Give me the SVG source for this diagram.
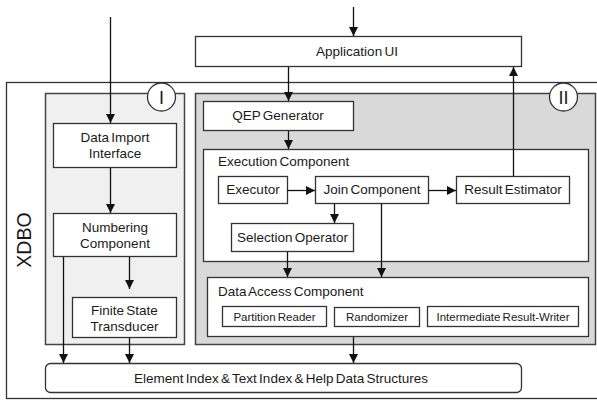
<svg xmlns="http://www.w3.org/2000/svg" width="597" height="401" viewBox="0 0 597 401">
  <defs>
    <marker id="arrow" markerWidth="9" markerHeight="10" refX="9" refY="5" orient="auto" markerUnits="userSpaceOnUse">
      <path d="M0,0.5 L9,5 L0,9.5 Z" fill="#111"/>
    </marker>
    <style>
      .box { fill: #fff; stroke: #333; stroke-width: 1.3; }
      .panel1 { fill: #f0f0f0; stroke: #444; stroke-width: 1.5; }
      .panel2 { fill: #d9d9d9; stroke: #444; stroke-width: 1.5; }
      .frame { fill: #fff; stroke: #333; stroke-width: 1.3; }
      .badge { fill: #fff; stroke: #333; stroke-width: 1.3; }
      .lbl { font-family: "Liberation Sans", Arial, sans-serif; font-size: 13.5px; fill: #1a1a1a; word-spacing: -1.5px; }
      .sm { font-family: "Liberation Sans", Arial, sans-serif; font-size: 11.5px; fill: #1a1a1a; word-spacing: -1px; }
      .c { text-anchor: middle; }
      .num { font-family: "Liberation Sans", Arial, sans-serif; font-size: 19px; fill: #1a1a1a; text-anchor: middle; }
      .conn line, .conn polyline { stroke: #111; stroke-width: 1.3; fill: none; }
    </style>
  </defs>

  <rect width="597" height="401" fill="#fff"/>

  <!-- XDBO system frame -->
  <g id="xdbo">
    <rect class="frame" x="6.5" y="82.5" width="600" height="316"/>
    <text class="num" x="31" y="240" transform="rotate(-90 31 240)" style="font-size:19.5px;">XDBO</text>
  </g>

  <!-- Part I: import side -->
  <g id="panel-i">
    <rect class="panel1" x="45.5" y="93.5" width="139" height="251"/>
    <circle class="badge" cx="161.5" cy="97" r="14"/>
    <text class="num" x="161.5" y="104" style="font-size:18px;">I</text>
  </g>

  <!-- Part II: query side -->
  <g id="panel-ii">
    <rect class="panel2" x="195.5" y="93.5" width="400" height="251"/>
    <circle class="badge" cx="563.5" cy="97" r="14"/>
    <text class="num" x="563.5" y="104" style="font-size:18px;">II</text>
  </g>

  <g id="application-ui">
    <rect class="box" x="195.5" y="36.5" width="326" height="30"/>
    <text class="lbl c" x="357" y="55.5">Application UI</text>
  </g>

  <g id="qep-generator">
    <rect class="box" x="203.5" y="101.5" width="150" height="29"/>
    <text class="lbl c" x="278" y="119.5">QEP Generator</text>
  </g>

  <g id="execution-component">
    <rect class="box" x="203.5" y="149.5" width="385" height="112"/>
    <text class="lbl" x="218" y="165.5">Execution Component</text>
  </g>

  <g id="executor">
    <rect class="box" x="218.5" y="176.5" width="69" height="27"/>
    <text class="lbl c" x="253" y="194">Executor</text>
  </g>

  <g id="join-component">
    <rect class="box" x="315.5" y="176.5" width="113" height="27"/>
    <text class="lbl c" x="372" y="194">Join Component</text>
  </g>

  <g id="result-estimator">
    <rect class="box" x="456.5" y="176.5" width="113" height="27"/>
    <text class="lbl c" x="513" y="194">Result Estimator</text>
  </g>

  <g id="selection-operator">
    <rect class="box" x="231.5" y="223.5" width="122" height="28"/>
    <text class="lbl c" x="292.5" y="241.5">Selection Operator</text>
  </g>

  <g id="data-access-component">
    <rect class="box" x="207.5" y="277.5" width="381" height="59"/>
    <text class="lbl" x="218" y="295.5">Data Access Component</text>
  </g>

  <g id="partition-reader">
    <rect class="box" x="222.5" y="306.5" width="104" height="20"/>
    <text class="sm c" x="274.5" y="320.5">Partition Reader</text>
  </g>

  <g id="randomizer">
    <rect class="box" x="334.5" y="307.5" width="85" height="19"/>
    <text class="sm c" x="377" y="321">Randomizer</text>
  </g>

  <g id="intermediate-result-writer">
    <rect class="box" x="427.5" y="306.5" width="151" height="20"/>
    <text class="sm c" x="503" y="320.5">Intermediate Result-Writer</text>
  </g>

  <g id="data-import-interface">
    <rect class="box" x="53.5" y="123.5" width="123" height="44"/>
    <text class="lbl c" x="115" y="142">Data Import</text>
    <text class="lbl c" x="115" y="158">Interface</text>
  </g>

  <g id="numbering-component">
    <rect class="box" x="53.5" y="213.5" width="123" height="43"/>
    <text class="lbl c" x="115" y="232">Numbering</text>
    <text class="lbl c" x="115" y="248">Component</text>
  </g>

  <g id="finite-state-transducer">
    <rect class="box" x="72.5" y="297.5" width="104" height="40"/>
    <text class="lbl c" x="124.5" y="315">Finite State</text>
    <text class="lbl c" x="124.5" y="331">Transducer</text>
  </g>

  <g id="element-index">
    <rect class="box" x="45.5" y="363.5" width="476" height="29" rx="5" ry="5"/>
    <text class="lbl c" x="281" y="383">Element Index &amp; Text Index &amp; Help Data Structures</text>
  </g>

  <!-- connectors -->
  <g id="connectors" class="conn">
    <line x1="353.5" y1="7" x2="353.5" y2="36" marker-end="url(#arrow)"/>
    <line x1="110.5" y1="17" x2="110.5" y2="123" marker-end="url(#arrow)"/>
    <line x1="288.5" y1="67" x2="288.5" y2="101" marker-end="url(#arrow)"/>
    <line x1="288.5" y1="131" x2="288.5" y2="149" marker-end="url(#arrow)"/>
    <line x1="287.5" y1="190.5" x2="315" y2="190.5" marker-end="url(#arrow)"/>
    <line x1="428.5" y1="190.5" x2="456" y2="190.5" marker-end="url(#arrow)"/>
    <line x1="513.5" y1="176" x2="513.5" y2="67" marker-end="url(#arrow)"/>
    <line x1="334.5" y1="204" x2="334.5" y2="223" marker-end="url(#arrow)"/>
    <line x1="287.5" y1="252" x2="287.5" y2="277" marker-end="url(#arrow)"/>
    <line x1="381.5" y1="204" x2="381.5" y2="277" marker-end="url(#arrow)"/>
    <line x1="353.5" y1="337" x2="353.5" y2="363" marker-end="url(#arrow)"/>
    <line x1="110.5" y1="168" x2="110.5" y2="213" marker-end="url(#arrow)"/>
    <line x1="129.5" y1="257" x2="129.5" y2="289" marker-end="url(#arrow)"/>
    <line x1="63.5" y1="257" x2="63.5" y2="363" marker-end="url(#arrow)"/>
    <line x1="129.5" y1="338" x2="129.5" y2="363" marker-end="url(#arrow)"/>
  </g>
</svg>
